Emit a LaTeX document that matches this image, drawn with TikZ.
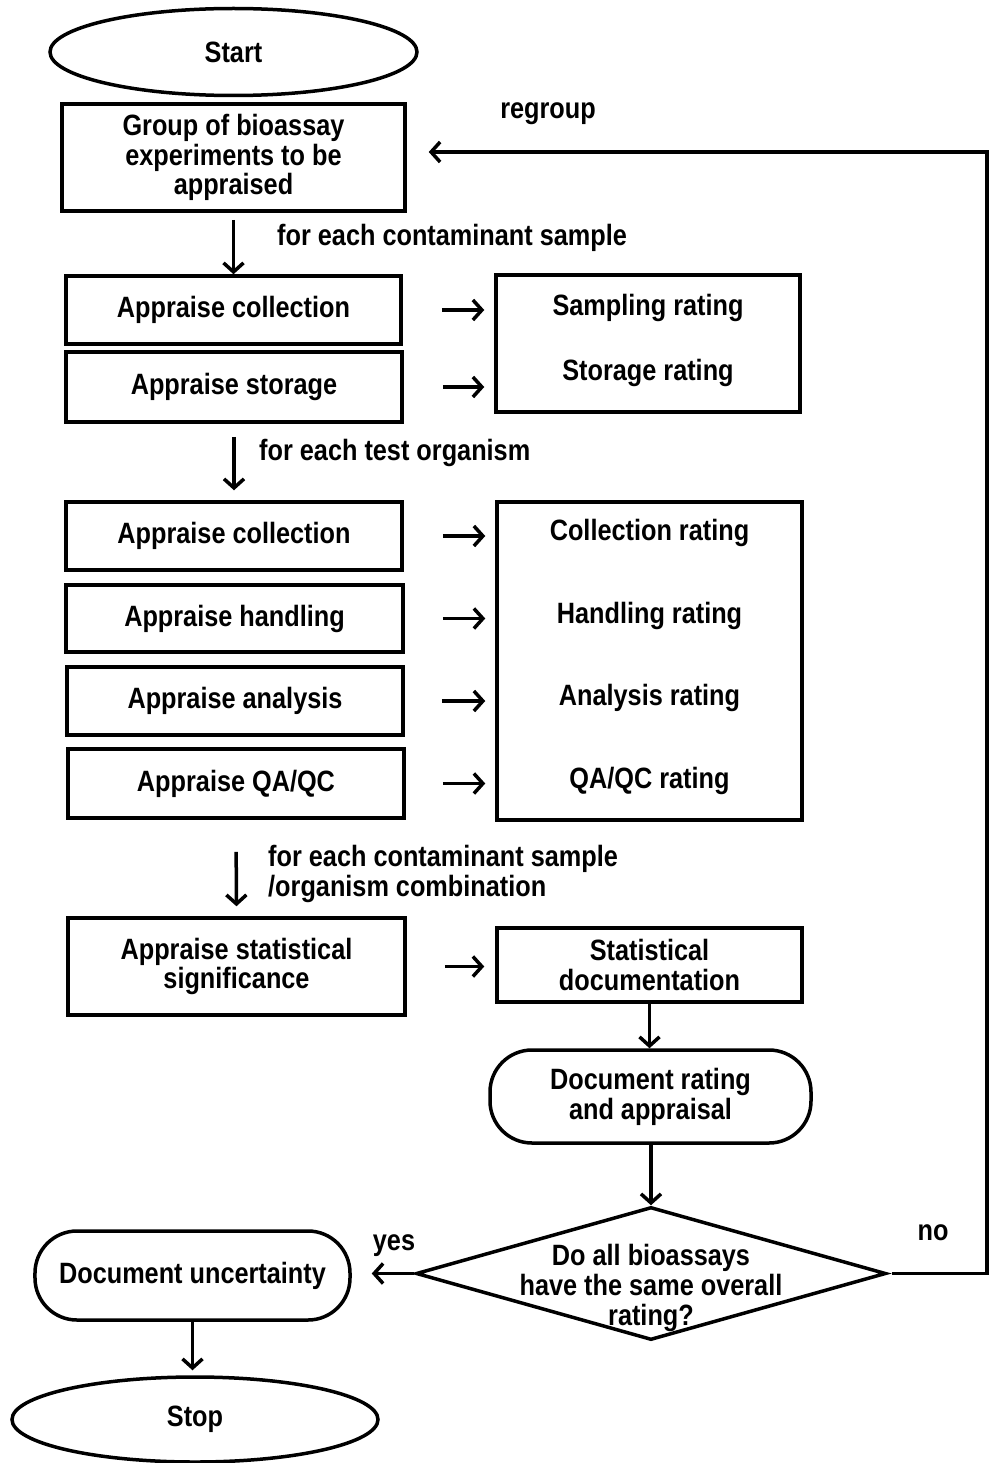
\documentclass[tikz,border=0pt]{standalone}
\usepackage{fontspec}
\setmainfont{Liberation Sans}[FakeStretch=0.86]
\usetikzlibrary{shapes.geometric,arrows.meta,calc}

\begin{document}
\begin{tikzpicture}[x=1bp,y=-1bp,
  every node/.style={font=\fontsize{29.5}{30}\selectfont\bfseries, inner sep=0pt},
  box/.style={draw, line width=3.5bp, align=center},
  oval/.style={draw, ellipse, line width=3.5bp},
  pill/.style={draw, rounded corners=42bp, line width=3.5bp, align=center},
  lbl/.style={anchor=west, align=left},
  arr/.style={line width=3.5bp, -{Straight Barb[length=9bp,width=20bp]}}
]
\useasboundingbox (0,0) rectangle (990,1463);

% terminals
\node[oval, minimum width=367bp, minimum height=87bp] (start) at (233.5,52) {Start};
\node[oval, minimum width=366bp, minimum height=85bp] (stop) at (195,1419.5) {Stop};

% first stage
\node[box, minimum width=343bp, minimum height=107bp] (grp) at (233.5,157.5)
  {Group of bioassay\\experiments to be\\appraised};
\node[box, minimum width=335bp, minimum height=68bp] (sc) at (233.5,310) {Appraise collection};
\node[box, minimum width=336bp, minimum height=70bp] (ss) at (234,387) {Appraise storage};
\node[box, minimum width=304bp, minimum height=137bp] (rs) at (648,343.5) {};
\node (rsa) at (648,308) {Sampling rating};
\node (rsb) at (648,373) {Storage rating};

% second stage
\node[box, minimum width=336bp, minimum height=68bp] (tc) at (234,536) {Appraise collection};
\node[box, minimum width=337bp, minimum height=67bp] (th) at (234.5,618.5) {Appraise handling};
\node[box, minimum width=336bp, minimum height=68bp] (ta) at (235,701) {Appraise analysis};
\node[box, minimum width=336bp, minimum height=69bp] (tq) at (236,783.5) {Appraise QA/QC};
\node[box, minimum width=305bp, minimum height=318bp] (rt) at (649.5,661) {};
\node (rta) at (649.5,533) {Collection rating};
\node (rtb) at (649.5,616) {Handling rating};
\node (rtc) at (649.5,698) {Analysis rating};
\node (rtd) at (649.5,781) {QA/QC rating};

% third stage
\node[box, minimum width=337bp, minimum height=97bp] (sig) at (236.5,966.5)
  {Appraise statistical\\significance};
\node[box, minimum width=305bp, minimum height=74bp] (sdoc) at (649.5,965)
  {Statistical\\documentation};
\node[pill, minimum width=321bp, minimum height=93bp] (drat) at (650.5,1096.5)
  {Document rating\\and appraisal};
\node[draw, diamond, line width=3.5bp, minimum width=470bp, minimum height=133bp] (dec) at (651,1273.5) {};
\node[align=center] (dectxt) at (651,1288)
  {Do all bioassays\\have the same overall\\rating?};
\node[pill, minimum width=315bp, minimum height=89bp] (unc) at (192.5,1275.5) {Document uncertainty};

% labels
\node[lbl] (l1) at (277,238) {for each contaminant sample};
\node[lbl] (l2) at (259,453) {for each test organism};
\node[lbl] (l3) at (268,874) {for each contaminant sample\\/organism combination};
\node (lreg) at (548,114) {regroup};
\node (lyes) at (394,1246) {yes};
\node (lno) at (933,1233) {no};

% flow
\draw[arr, shorten <=7bp] (grp.south) -- (sc.north);
\draw[arr, shorten <=13bp, shorten >=10bp] (ss.south) -- (tc.north);
\draw[arr, shorten <=32bp, shorten >=10bp] (tq.south) -- (sig.north);

\draw[arr, shorten <=39bp, shorten >=10bp] (sc.east) -- (sc.east -| rs.west);
\draw[arr, shorten <=39bp, shorten >=10bp] (ss.east) -- (ss.east -| rs.west);
\draw[arr, shorten <=39bp, shorten >=10bp] (tc.east) -- (tc.east -| rt.west);
\draw[arr, shorten <=38bp, shorten >=10bp] (th.east) -- (th.east -| rt.west);
\draw[arr, shorten <=37bp, shorten >=10bp] (ta.east) -- (ta.east -| rt.west);
\draw[arr, shorten <=37bp, shorten >=10bp] (tq.east) -- (tq.east -| rt.west);
\draw[arr, shorten <=38bp, shorten >=11bp] (sig.east) -- (sig.east -| sdoc.west);

\draw[arr] (sdoc.south) -- (sdoc.south |- drat.north);
\draw[arr] (dec.north |- drat.south) -- (dec.north);
\draw[arr, shorten >=20bp] (dec.west) -- (dec.west -| unc.east);
\draw[arr, shorten >=5bp] (unc.south) -- (unc.south |- stop.north);

% loop back
\coordinate (turn) at (987,1273.5);
\coordinate (back) at (987,152);
\draw[arr, shorten <=4bp, shorten >=22bp] (dec.east) -- (turn) -- (back) -- (back -| grp.east);
\end{tikzpicture}
\end{document}
